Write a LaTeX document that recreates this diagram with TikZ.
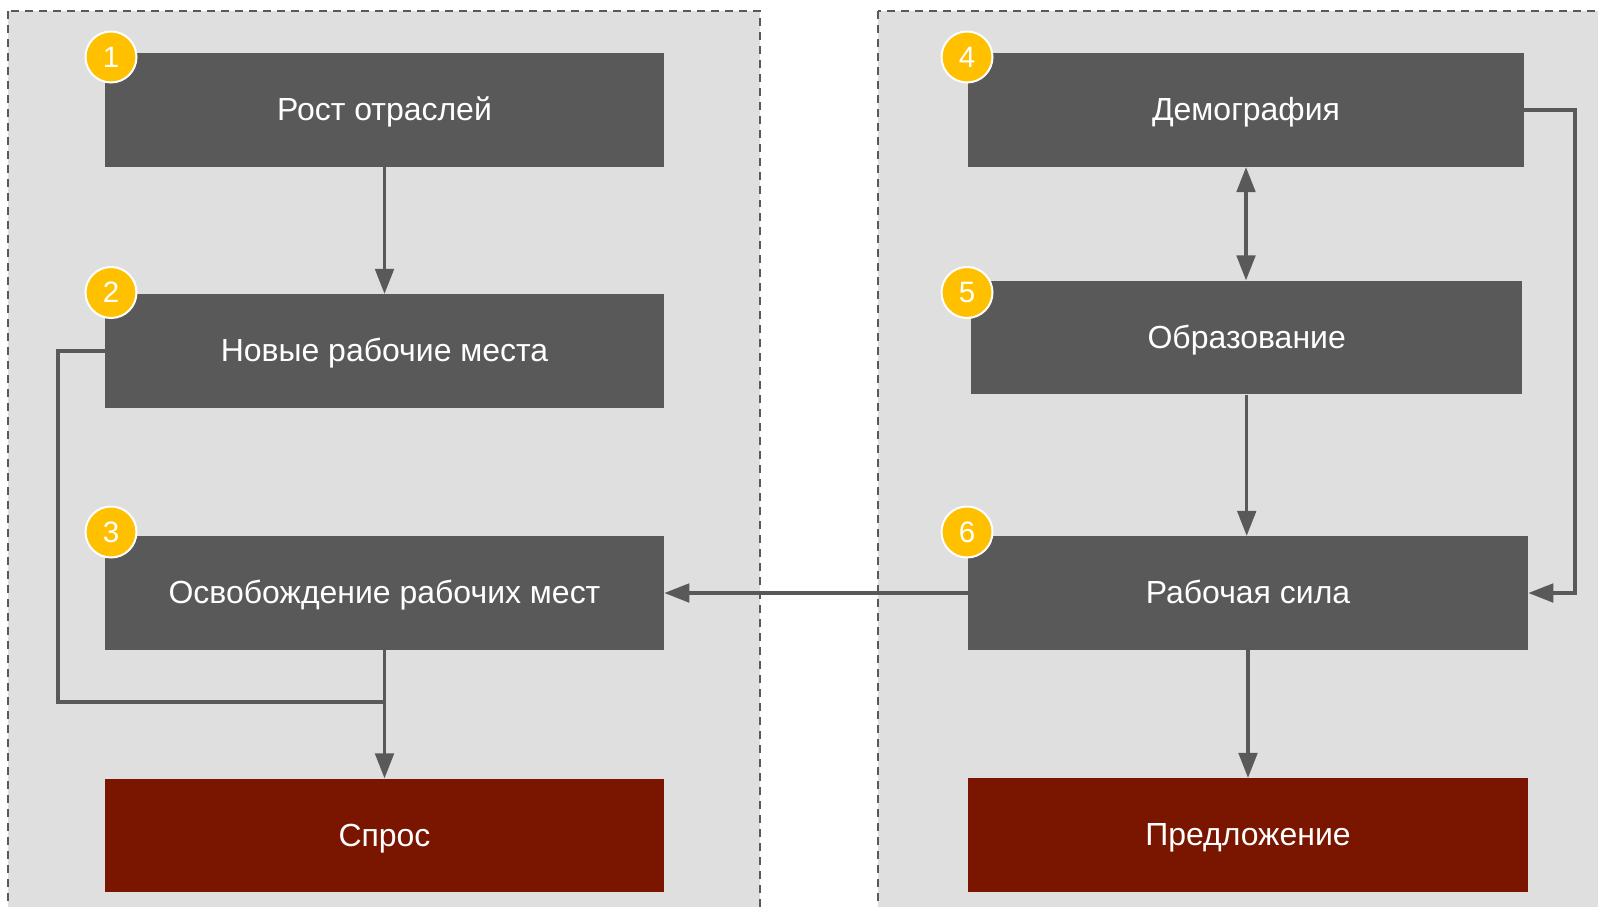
\documentclass[tikz,border=0pt]{standalone}
\usepackage{fontspec}
\setmainfont{Liberation Sans}
\usetikzlibrary{arrows.meta}
\definecolor{panelbg}{HTML}{DFDFDF}
\definecolor{boxgray}{HTML}{595959}
\definecolor{boxred}{HTML}{7A1500}
\definecolor{badgey}{HTML}{FFC000}
\tikzset{
  panel/.style={fill=panelbg, draw=boxgray, line width=0.04cm, dash pattern=on 0.16cm off 0.12cm},
  boxbase/.style={rectangle, inner sep=0pt, minimum height=2.27cm, text=white,
    font=\fontsize{18.2}{21}\selectfont, text height=16pt, text depth=3.8pt},
  graybox/.style={boxbase, fill=boxgray},
  redbox/.style={boxbase, fill=boxred},
  badge/.style={circle, fill=badgey, draw=white, line width=0.04cm, minimum size=1.02cm,
    inner sep=0pt, text=white, font=\fontsize{16.8}{18}\selectfont},
  conn/.style={draw=boxgray, line width=0.07cm},
  arr/.style={conn, -{Triangle[length=0.5cm, width=0.37cm]}},
  darr/.style={conn, {Triangle[length=0.5cm, width=0.37cm]}-{Triangle[length=0.5cm, width=0.37cm]}},
}
\begin{document}
\begin{tikzpicture}[x=0.02cm, y=-0.02cm]
\useasboundingbox (0,0) rectangle (1598,906);
\clip (0,0) rectangle (1598,906);
% panels
\path[panel] (8,11) rectangle (760,930);
\path[panel] (878,11) rectangle (1640,930);
% boxes
\node[graybox, minimum width=11.18cm] (b1) at (384.5,110) {Рост отраслей};
\node[graybox, minimum width=11.18cm] (b2) at (384.5,351) {Новые рабочие места};
\node[graybox, minimum width=11.18cm] (b3) at (384.5,593) {Освобождение рабочих мест};
\node[redbox, minimum width=11.18cm] (sp) at (384.5,835.5) {Спрос};
\node[graybox, minimum width=11.12cm] (b4) at (1246,110) {Демография};
\node[graybox, minimum width=11.03cm] (b5) at (1246.7,337.5) {Образование};
\node[graybox, minimum width=11.2cm] (b6) at (1248,593) {Рабочая сила};
\node[redbox, minimum width=11.2cm] (pr) at (1248,835) {Предложение};
% connectors
\coordinate (j1) at (58,351);
\coordinate (j2) at (58,702);
\coordinate (j3) at (385,702);
\coordinate (r1) at (1575,110);
\coordinate (r2) at (1575,593);
\draw[arr] (b1.south) -- (b2.north);
\draw[conn] (b2.west) -- (j1) -- (j2) -- (j3);
\draw[arr] (b3.south) -- (sp.north);
\draw[darr] (b4.south) -- (b4.south |- b5.north);
\draw[arr] (b5.south) -- (b5.south |- b6.north);
\draw[arr] (b4.east) -- (r1) -- (r2) -- (b6.east);
\draw[arr] (b6.west) -- (b3.east);
\draw[arr] (b6.south) -- (pr.north);
% badges
\node[badge] (n1) at (111,57) {1};
\node[badge] (n2) at (111,292.5) {2};
\node[badge] (n3) at (111,532) {3};
\node[badge] (n4) at (967,57) {4};
\node[badge] (n5) at (967,292.5) {5};
\node[badge] (n6) at (967,532) {6};
\end{tikzpicture}
\end{document}
